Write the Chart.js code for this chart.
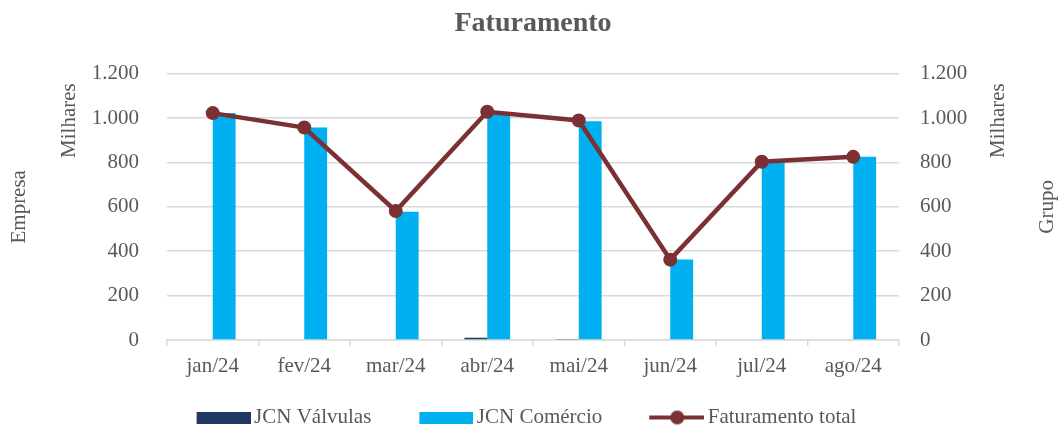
<!DOCTYPE html>
<html>
<head>
<meta charset="utf-8">
<script src="https://cdn.jsdelivr.net/npm/chart.js@4"></script>
<style>
  html, body { margin: 0; padding: 0; background: #fff; }
  #wrap { width: 1060px; height: 430px; }
</style>
</head>
<body>
<div id="wrap"><canvas id="faturamento"></canvas></div>
<script>
var meses = ['jan/24', 'fev/24', 'mar/24', 'abr/24', 'mai/24', 'jun/24', 'jul/24', 'ago/24'];
var jcnValvulas = [0, 0, 3, 10, 4, 0, 0, 0];
var jcnComercio = [1022, 957, 578, 1018, 985, 363, 800, 826];
var faturamentoTotal = [1022, 957, 581, 1028, 989, 362, 803, 825];
var yTicks = [0, 200, 400, 600, 800, 1000, 1200];

var cinza = '#595959';
var fonte = "'Liberation Serif', 'Times New Roman', serif";
Chart.defaults.font.family = fonte;
Chart.defaults.color = cinza;

function milhar(v) {
    return String(v).replace(/\B(?=(\d{3})+(?!\d))/g, '.');
}

// legend markers: 84px wide image, visible mark in the right 54px
// (left part is blank so items sit further apart, right part eats into the text gap)
function caixa(cor) {
    var c = document.createElement('canvas');
    c.width = 84; c.height = 12;
    var g = c.getContext('2d');
    g.fillStyle = cor;
    g.fillRect(30, 0, 54, 12);
    return c;
}
function marcaLinha(cor) {
    var c = document.createElement('canvas');
    c.width = 84; c.height = 16;
    var g = c.getContext('2d');
    g.strokeStyle = cor;
    g.lineWidth = 4;
    g.beginPath(); g.moveTo(29, 8); g.lineTo(84, 8); g.stroke();
    g.fillStyle = cor;
    g.beginPath(); g.arc(57, 8, 7, 0, Math.PI * 2); g.fill();
    return c;
}

var textosEixo = {
    id: 'textosEixo',
    afterDraw: function (chart) {
        var ctx = chart.ctx, a = chart.chartArea;
        var meio = (a.top + a.bottom) / 2;
        var itens = [
            ['Milhares', 69, a.top + 47],
            ['Empresa', 19, meio],
            ['Milhares', 998, a.top + 47],
            ['Grupo', 1047, meio]
        ];
        ctx.save();
        ctx.font = '21px ' + fonte;
        ctx.fillStyle = cinza;
        ctx.textAlign = 'center';
        ctx.textBaseline = 'middle';
        itens.forEach(function (t) {
            ctx.save();
            ctx.translate(t[1], t[2]);
            ctx.rotate(-Math.PI / 2);
            ctx.fillText(t[0], 0, 0);
            ctx.restore();
        });
        ctx.restore();
    }
};

var ctx = document.getElementById('faturamento').getContext('2d');

var chart = new Chart(ctx, {
    data: {
        labels: meses,
        datasets: [{
            type: 'bar',
            label: 'JCN Válvulas',
            data: jcnValvulas,
            backgroundColor: '#1f3864',
            yAxisID: 'y',
            order: 1,
            categoryPercentage: 0.5,
            barPercentage: 1.0
        }, {
            type: 'bar',
            label: 'JCN Comércio',
            data: jcnComercio,
            backgroundColor: '#00b0f0',
            yAxisID: 'y',
            order: 1,
            categoryPercentage: 0.5,
            barPercentage: 1.0
        }, {
            type: 'line',
            label: 'Faturamento total',
            data: faturamentoTotal,
            borderColor: '#7b3034',
            backgroundColor: '#7b3034',
            borderWidth: 4.5,
            pointRadius: 7,
            pointHoverRadius: 7,
            pointBackgroundColor: '#7b3034',
            pointBorderWidth: 0,
            tension: 0,
            yAxisID: 'y2',
            order: 0
        }]
    },
    options: {
        responsive: true,
        maintainAspectRatio: false,
        animation: false,
        layout: { padding: { left: 0, right: 30, top: 0, bottom: -8 } },
        plugins: {
            title: {
                display: true,
                fullSize: false,
                text: 'Faturamento',
                color: cinza,
                font: { size: 28, weight: 'bold' },
                padding: { top: 7, bottom: 33 }
            },
            legend: {
                position: 'bottom',
                labels: {
                    color: cinza,
                    font: { size: 21 },
                    usePointStyle: true,
                    pointStyleWidth: 70,
                    boxHeight: 12,
                    padding: 25,
                    generateLabels: function (chart) {
                        var ds = chart.data.datasets;
                        return [
                            { text: ds[0].label, pointStyle: caixa('#1f3864'), datasetIndex: 0, fontColor: cinza, lineWidth: 0, strokeStyle: 'rgba(0,0,0,0)', fillStyle: '#1f3864' },
                            { text: ds[1].label, pointStyle: caixa('#00b0f0'), datasetIndex: 1, fontColor: cinza, lineWidth: 0, strokeStyle: 'rgba(0,0,0,0)', fillStyle: '#00b0f0' },
                            { text: ds[2].label, pointStyle: marcaLinha('#7b3034'), datasetIndex: 2, fontColor: cinza, lineWidth: 0, strokeStyle: 'rgba(0,0,0,0)', fillStyle: '#7b3034' }
                        ];
                    }
                }
            },
            tooltip: { enabled: false }
        },
        scales: {
            x: {
                offset: true,
                grid: {
                    display: true,
                    offset: true,
                    drawOnChartArea: false,
                    drawTicks: true,
                    tickLength: 6,
                    color: '#d9d9d9',
                    lineWidth: 1.5
                },
                border: { display: true, color: '#d9d9d9', width: 1.5 },
                ticks: { color: cinza, font: { size: 21 }, padding: 8, maxRotation: 0 },
                afterFit: function (s) { s.height = 42; }
            },
            y: {
                position: 'left',
                min: 0,
                max: 1200,
                afterBuildTicks: function (s) { s.ticks = yTicks.map(function (v) { return { value: v }; }); },
                grid: { color: '#d9d9d9', lineWidth: 1.5, drawTicks: false },
                border: { display: false },
                ticks: {
                    color: cinza,
                    font: { size: 21 },
                    padding: 28,
                    callback: function (v) { return milhar(v); }
                },
                afterFit: function (s) { s.width = 167; }
            },
            y2: {
                position: 'right',
                min: 0,
                max: 1200,
                afterBuildTicks: function (s) { s.ticks = yTicks.map(function (v) { return { value: v }; }); },
                grid: { drawOnChartArea: false, drawTicks: false },
                border: { display: false },
                ticks: {
                    color: cinza,
                    font: { size: 21 },
                    padding: 21,
                    callback: function (v) { return milhar(v); }
                },
                afterFit: function (s) { s.width = 131; }
            }
        }
    },
    plugins: [textosEixo]
});
</script>
</body>
</html>
